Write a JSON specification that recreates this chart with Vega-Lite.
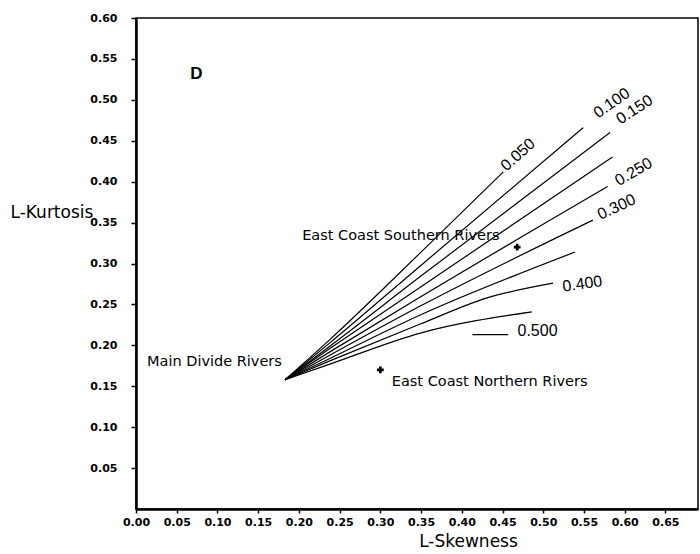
{
  "$schema": "https://vega.github.io/schema/vega-lite/v6.json",
  "width": 562,
  "height": 491,
  "autosize": {"type": "none"},
  "padding": {"left": 136, "top": 18, "right": 2, "bottom": 45},
  "background": "white",
  "config": {
    "view": {"stroke": "black", "strokeWidth": 1.5},
    "axis": {"grid": false, "domainColor": "black", "domainWidth": 2.5, "tickColor": "black", "tickWidth": 1.5, "labelColor": "black", "labelFont": "DejaVu Sans", "labelFontWeight": "bold", "labelFontSize": 11, "labelFlush": false, "labelOverlap": false, "titleColor": "black", "titleFont": "DejaVu Sans", "titleFontWeight": "normal", "titleFontSize": 17}
  },
  "datasets": {
    "curves": [
      {"s": "0.050", "o": 1, "x": 0.183, "y": 0.158},
      {"s": "0.050", "o": 2, "x": 0.238, "y": 0.207},
      {"s": "0.050", "o": 3, "x": 0.349, "y": 0.313},
      {"s": "0.050", "o": 4, "x": 0.451, "y": 0.412},
      {"s": "0.100", "o": 1, "x": 0.183, "y": 0.158},
      {"s": "0.100", "o": 2, "x": 0.238, "y": 0.203},
      {"s": "0.100", "o": 3, "x": 0.349, "y": 0.297},
      {"s": "0.100", "o": 4, "x": 0.549, "y": 0.466},
      {"s": "0.150", "o": 1, "x": 0.183, "y": 0.158},
      {"s": "0.150", "o": 2, "x": 0.238, "y": 0.199},
      {"s": "0.150", "o": 3, "x": 0.349, "y": 0.284},
      {"s": "0.150", "o": 4, "x": 0.582, "y": 0.460},
      {"s": "0.200", "o": 1, "x": 0.183, "y": 0.158},
      {"s": "0.200", "o": 2, "x": 0.238, "y": 0.196},
      {"s": "0.200", "o": 3, "x": 0.349, "y": 0.271},
      {"s": "0.200", "o": 4, "x": 0.585, "y": 0.430},
      {"s": "0.250", "o": 1, "x": 0.183, "y": 0.158},
      {"s": "0.250", "o": 2, "x": 0.238, "y": 0.192},
      {"s": "0.250", "o": 3, "x": 0.349, "y": 0.259},
      {"s": "0.250", "o": 4, "x": 0.579, "y": 0.394},
      {"s": "0.300", "o": 1, "x": 0.183, "y": 0.158},
      {"s": "0.300", "o": 2, "x": 0.238, "y": 0.188},
      {"s": "0.300", "o": 3, "x": 0.349, "y": 0.248},
      {"s": "0.300", "o": 4, "x": 0.561, "y": 0.353},
      {"s": "0.350", "o": 1, "x": 0.183, "y": 0.158},
      {"s": "0.350", "o": 2, "x": 0.238, "y": 0.184},
      {"s": "0.350", "o": 3, "x": 0.349, "y": 0.237},
      {"s": "0.350", "o": 4, "x": 0.539, "y": 0.314},
      {"s": "0.400", "o": 1, "x": 0.183, "y": 0.158},
      {"s": "0.400", "o": 2, "x": 0.238, "y": 0.181},
      {"s": "0.400", "o": 3, "x": 0.349, "y": 0.226},
      {"s": "0.400", "o": 4, "x": 0.431, "y": 0.258},
      {"s": "0.400", "o": 5, "x": 0.512, "y": 0.276},
      {"s": "0.450", "o": 1, "x": 0.183, "y": 0.158},
      {"s": "0.450", "o": 2, "x": 0.238, "y": 0.177},
      {"s": "0.450", "o": 3, "x": 0.349, "y": 0.215},
      {"s": "0.450", "o": 4, "x": 0.486, "y": 0.241},
      {"s": "0.500", "o": 1, "x": 0.413, "y": 0.213},
      {"s": "0.500", "o": 2, "x": 0.457, "y": 0.213}
    ],
    "sites": [
      {"name": "East Coast Southern Rivers", "x": 0.468, "y": 0.320},
      {"name": "East Coast Northern Rivers", "x": 0.300, "y": 0.170}
    ],
    "notes": [
      {"label": "East Coast Southern Rivers", "x": 0.204, "y": 0.334},
      {"label": "East Coast Northern Rivers", "x": 0.314, "y": 0.155},
      {"label": "Main Divide Rivers", "x": 0.0135, "y": 0.180}
    ]
  },
  "layer": [
    {
      "data": {"name": "curves"},
      "mark": {"type": "line", "color": "black", "strokeWidth": 1.2, "interpolate": "monotone"},
      "encoding": {
        "x": {"field": "x", "type": "quantitative", "scale": {"domain": [0, 0.69], "nice": false, "zero": false},
          "axis": {"values": [0, 0.05, 0.1, 0.15, 0.2, 0.25, 0.3, 0.35, 0.4, 0.45, 0.5, 0.55, 0.6, 0.65], "format": ".2f", "tickSize": 4, "labelPadding": 3, "title": "L-Skewness", "titleX": 332, "titleY": 32, "titleBaseline": "middle", "titleAnchor": "middle"}},
        "y": {"field": "y", "type": "quantitative", "scale": {"domain": [0, 0.6], "nice": false, "zero": false},
          "axis": {"values": [0.05, 0.1, 0.15, 0.2, 0.25, 0.3, 0.35, 0.4, 0.45, 0.5, 0.55, 0.6], "format": ".2f", "tickSize": 5, "labelPadding": 14, "title": "L-Kurtosis", "titleAngle": 0, "titleAlign": "left", "titleBaseline": "middle", "titleX": -126, "titleY": 194}},
        "detail": {"field": "s"},
        "order": {"field": "o", "type": "quantitative"}
      }
    },
    {
      "data": {"name": "sites"},
      "mark": {"type": "point", "shape": "cross", "filled": true, "color": "black", "size": 45, "opacity": 1},
      "encoding": {
        "x": {"field": "x", "type": "quantitative"},
        "y": {"field": "y", "type": "quantitative"}
      }
    },
    {
      "data": {"name": "notes"},
      "mark": {"type": "text", "align": "left", "baseline": "middle", "font": "DejaVu Sans", "fontSize": 14.5, "color": "black"},
      "encoding": {
        "x": {"field": "x", "type": "quantitative"},
        "y": {"field": "y", "type": "quantitative"},
        "text": {"field": "label"}
      }
    },
    {
      "data": {"values": [{"label": "D", "x": 0.074, "y": 0.531}]},
      "mark": {"type": "text", "align": "center", "baseline": "middle", "font": "Liberation Sans", "fontWeight": "bold", "fontSize": 17, "color": "black"},
      "encoding": {"x": {"field": "x", "type": "quantitative"}, "y": {"field": "y", "type": "quantitative"}, "text": {"field": "label"}}
    },
    {
      "data": {"values": [{"label": "0.050", "x": 0.469, "y": 0.433}]},
      "mark": {"type": "text", "align": "center", "baseline": "middle", "font": "Liberation Sans", "fontSize": 16, "angle": 318, "color": "black"},
      "encoding": {"x": {"field": "x", "type": "quantitative"}, "y": {"field": "y", "type": "quantitative"}, "text": {"field": "label"}}
    },
    {
      "data": {"values": [{"label": "0.100", "x": 0.584, "y": 0.496}]},
      "mark": {"type": "text", "align": "center", "baseline": "middle", "font": "Liberation Sans", "fontSize": 16, "angle": 325, "color": "black"},
      "encoding": {"x": {"field": "x", "type": "quantitative"}, "y": {"field": "y", "type": "quantitative"}, "text": {"field": "label"}}
    },
    {
      "data": {"values": [{"label": "0.150", "x": 0.612, "y": 0.488}]},
      "mark": {"type": "text", "align": "center", "baseline": "middle", "font": "Liberation Sans", "fontSize": 16, "angle": 327, "color": "black"},
      "encoding": {"x": {"field": "x", "type": "quantitative"}, "y": {"field": "y", "type": "quantitative"}, "text": {"field": "label"}}
    },
    {
      "data": {"values": [{"label": "0.250", "x": 0.611, "y": 0.412}]},
      "mark": {"type": "text", "align": "center", "baseline": "middle", "font": "Liberation Sans", "fontSize": 16, "angle": 330, "color": "black"},
      "encoding": {"x": {"field": "x", "type": "quantitative"}, "y": {"field": "y", "type": "quantitative"}, "text": {"field": "label"}}
    },
    {
      "data": {"values": [{"label": "0.300", "x": 0.590, "y": 0.369}]},
      "mark": {"type": "text", "align": "center", "baseline": "middle", "font": "Liberation Sans", "fontSize": 16, "angle": 335, "color": "black"},
      "encoding": {"x": {"field": "x", "type": "quantitative"}, "y": {"field": "y", "type": "quantitative"}, "text": {"field": "label"}}
    },
    {
      "data": {"values": [{"label": "0.400", "x": 0.548, "y": 0.275}]},
      "mark": {"type": "text", "align": "center", "baseline": "middle", "font": "Liberation Sans", "fontSize": 16, "angle": 352, "color": "black"},
      "encoding": {"x": {"field": "x", "type": "quantitative"}, "y": {"field": "y", "type": "quantitative"}, "text": {"field": "label"}}
    },
    {
      "data": {"values": [{"label": "0.500", "x": 0.493, "y": 0.218}]},
      "mark": {"type": "text", "align": "center", "baseline": "middle", "font": "Liberation Sans", "fontSize": 16, "color": "black"},
      "encoding": {"x": {"field": "x", "type": "quantitative"}, "y": {"field": "y", "type": "quantitative"}, "text": {"field": "label"}}
    }
  ]
}
